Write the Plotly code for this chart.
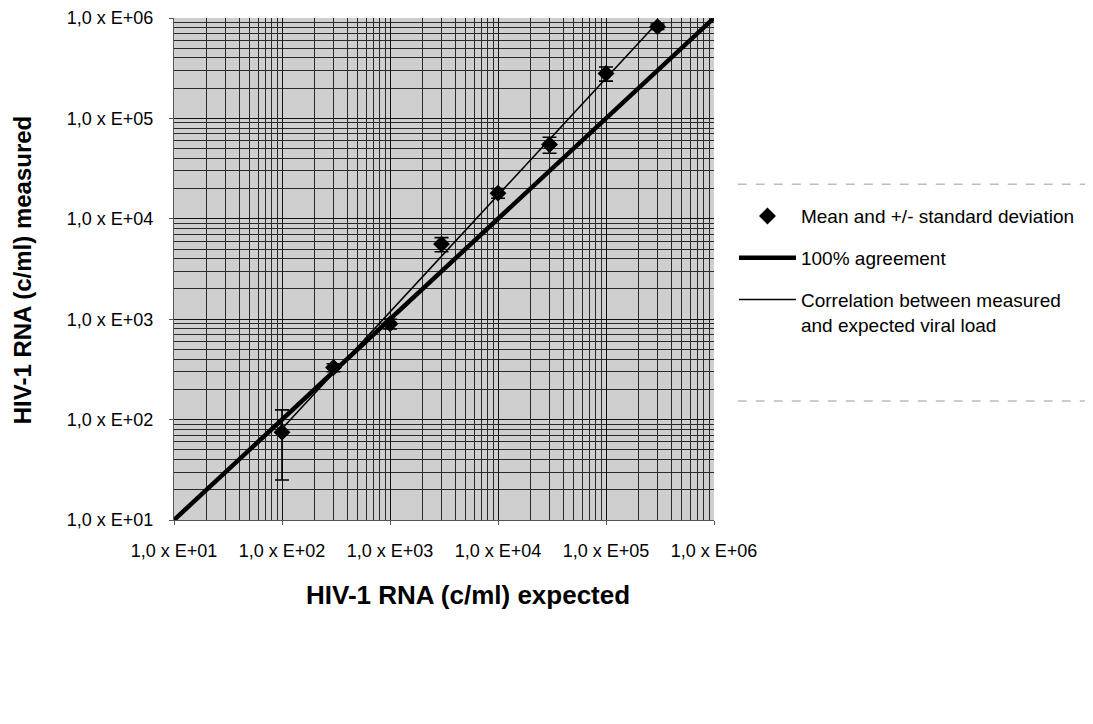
import numpy as np
import plotly.graph_objects as go

# Data
expected = [100, 300, 1000, 3000, 10000, 30000, 100000, 300000]
measured = [75, 330, 900, 5600, 18000, 55000, 280000, 820000]
sd = [50, 30, 100, 900, 2000, 10000, 45000, 50000]
agreement_x = [10, 1000000]
tick_vals = [10, 100, 1000, 10000, 100000, 1000000]
tick_text = ["1,0 x E+01", "1,0 x E+02", "1,0 x E+03", "1,0 x E+04", "1,0 x E+05", "1,0 x E+06"]

# Correlation (power-law fit in log space)
lx = np.log10(expected)
ly = np.log10(measured)
slope, intercept = np.polyfit(lx, ly, 1)
fit_x = np.array([min(expected), max(expected)])
fit_y = 10 ** (intercept + slope * np.log10(fit_x))

FONT = "Liberation Sans, Arial, sans-serif"

fig = go.Figure()

fig.add_trace(go.Scatter(
    x=expected, y=measured, mode="markers",
    marker=dict(symbol="diamond", size=13, color="black"),
    error_y=dict(type="data", array=sd, visible=True,
                 color="black", thickness=1.6, width=7),
    name="Mean and +/- standard deviation", legendgroup="a",
))
fig.add_trace(go.Scatter(
    x=agreement_x, y=agreement_x, mode="lines",
    line=dict(color="black", width=4.5),
    name="100% agreement", legendgroup="b",
))
fig.add_trace(go.Scatter(
    x=fit_x, y=fit_y, mode="lines",
    line=dict(color="black", width=1.6),
    name="Correlation between measured<br>and expected viral load", legendgroup="c",
))

axis_common = dict(
    type="log", range=[1, 6], tickvals=tick_vals, ticktext=tick_text,
    showgrid=True, gridcolor="#111111", gridwidth=1.2,
    minor=dict(showgrid=True, gridcolor="#2a2a2a", gridwidth=0.8, dtick="D1"),
    showline=True, linecolor="#555555", linewidth=1, mirror=False,
    ticks="outside", ticklen=4, tickcolor="#555555",
    tickfont=dict(family=FONT, size=18, color="black"),
    zeroline=False, automargin=False,
)

fig.update_xaxes(**axis_common, ticklabelstandoff=10)
fig.update_yaxes(**axis_common, ticklabelstandoff=12)

# Axis titles
fig.add_annotation(text="<b>HIV-1 RNA (c/ml) expected</b>", xref="paper", yref="paper",
                   x=0.544, y=-0.149, xanchor="center", yanchor="middle", showarrow=False,
                   font=dict(family=FONT, size=26, color="black"))
fig.add_annotation(text="<b>HIV-1 RNA (c/ml) measured</b>", xref="paper", yref="paper",
                   x=-0.281, y=0.498, xanchor="center", yanchor="middle", showarrow=False,
                   textangle=-90, font=dict(family=FONT, size=24, color="black"))

# legend frame lines (dashed, top and bottom)
for yv in [0.669, 0.237]:
    fig.add_shape(type="line", xref="paper", yref="paper",
                  x0=1.044, x1=1.72, y0=yv, y1=yv,
                  line=dict(color="#9a9a9a", width=1, dash="dash"))

fig.update_layout(
    width=1093, height=724,
    margin=dict(l=166, r=387, t=10, b=212),
    paper_bgcolor="white", plot_bgcolor="#cfcfcf",
    font=dict(family=FONT, color="black"),
    showlegend=True,
    legend=dict(x=1.037, y=0.643, xanchor="left", yanchor="top",
                font=dict(family=FONT, size=19, color="black"),
                bgcolor="rgba(0,0,0,0)", tracegroupgap=14,
                traceorder="grouped", valign="top", itemwidth=57),
)

fig.write_html("out.html")
